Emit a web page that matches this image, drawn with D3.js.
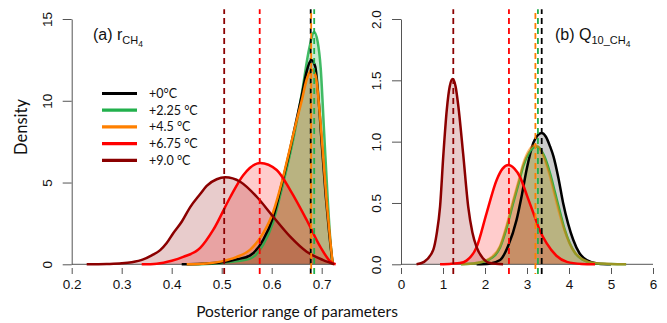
<!DOCTYPE html>
<html>
<head>
<meta charset="utf-8">
<script src="https://cdn.jsdelivr.net/npm/d3@7"></script>
<style>
  body { margin: 0; background: #fff; }
  svg { display: block; }
</style>
</head>
<body>
<div id="chart"></div>
<script>
// scenarios (legend order)
const scenarios = ['+0°C', '+2.25 °C', '+4.5 °C', '+6.75 °C', '+9.0 °C'];
const lineColors = ['#000000', '#22b04c', '#ff8000', '#ff0000', '#8b0000'];
const fillColors = ['rgba(0,0,0,0.2)', 'rgba(34,176,76,0.25)', 'rgba(255,128,0,0.25)', 'rgba(255,0,0,0.2)', 'rgba(139,0,0,0.2)'];

// (a) r_CH4 posterior densities, [value, density]
const rCH4_0 = [[0.42,0],[0.46,0.03],[0.5,0.12],[0.53,0.3],[0.557,0.55],[0.583,1.5],[0.603,2.9],[0.62,4.9],[0.635,6.8],[0.65,8.9],[0.66,10.3],[0.67,11.8],[0.679,12.5],[0.687,12.1],[0.694,10.0],[0.70,7.4],[0.708,4.2],[0.715,1.9],[0.722,0]];
const rCH4_225 = [[0.43,0],[0.48,0.04],[0.52,0.15],[0.557,0.35],[0.583,1.2],[0.603,2.6],[0.62,4.6],[0.64,7.2],[0.66,10.4],[0.675,13.2],[0.685,14.2],[0.692,13.6],[0.698,12.0],[0.705,8.0],[0.712,4.0],[0.718,1.2],[0.722,0]];
const rCH4_45 = [[0.43,0],[0.47,0.05],[0.5,0.18],[0.53,0.45],[0.557,0.9],[0.583,1.9],[0.603,3.2],[0.62,5.0],[0.635,6.9],[0.65,8.8],[0.66,10.0],[0.67,11.3],[0.68,11.9],[0.688,11.5],[0.695,9.6],[0.702,7.0],[0.71,3.8],[0.717,1.5],[0.722,0]];
const rCH4_675 = [[0.34,0],[0.37,0.04],[0.4,0.22],[0.423,0.45],[0.457,1.0],[0.483,2.1],[0.517,4.1],[0.543,5.45],[0.577,6.2],[0.61,5.77],[0.637,4.54],[0.67,2.71],[0.697,1.08],[0.72,0.1],[0.728,0]];
const rCH4_9 = [[0.23,0],[0.27,0.02],[0.3,0.06],[0.32,0.13],[0.343,0.3],[0.36,0.55],[0.377,0.87],[0.39,1.3],[0.403,1.9],[0.42,2.6],[0.437,3.5],[0.457,4.3],[0.47,4.8],[0.49,5.2],[0.507,5.32],[0.537,5.05],[0.57,4.13],[0.603,2.91],[0.637,1.69],[0.67,0.77],[0.703,0.26],[0.72,0.06],[0.725,0]];
const rCH4Series = [rCH4_0, rCH4_225, rCH4_45, rCH4_675, rCH4_9];
const rCH4Means = [0.678, 0.685, 0.679, 0.576, 0.505];
const rTicksX = [0.2, 0.3, 0.4, 0.5, 0.6, 0.7];
const rTicksY = [0, 5, 10, 15];

// (b) Q10_CH4 posterior densities
const q10_0 = [[1.8,0],[2.1,0.005],[2.36,0.035],[2.55,0.15],[2.75,0.36],[2.88,0.57],[2.99,0.77],[3.15,0.99],[3.25,1.05],[3.35,1.07],[3.45,1.04],[3.55,0.96],[3.63,0.88],[3.75,0.7],[3.86,0.5],[3.98,0.33],[4.1,0.2],[4.25,0.09],[4.42,0.035],[4.7,0.005],[5.0,0]];
const q10_225 = [[1.43,0],[1.8,0.01],[2.1,0.04],[2.36,0.14],[2.5,0.28],[2.67,0.5],[2.8,0.66],[2.91,0.8],[3.05,0.91],[3.23,0.96],[3.4,0.89],[3.55,0.74],[3.67,0.58],[3.79,0.42],[3.9,0.28],[4.02,0.17],[4.15,0.09],[4.34,0.035],[4.6,0.008],[5.0,0.002],[5.36,0]];
const q10_45 = [[1.43,0],[1.8,0.01],[2.1,0.045],[2.36,0.15],[2.5,0.3],[2.67,0.52],[2.8,0.68],[2.91,0.82],[3.05,0.93],[3.2,0.97],[3.37,0.9],[3.52,0.75],[3.64,0.59],[3.76,0.43],[3.88,0.29],[4.0,0.18],[4.13,0.1],[4.32,0.04],[4.6,0.01],[5.0,0.003],[5.36,0]];
const q10_675 = [[0.93,0],[1.2,0.005],[1.4,0.01],[1.56,0.03],[1.8,0.14],[2.04,0.42],[2.28,0.69],[2.42,0.78],[2.555,0.81],[2.7,0.78],[2.83,0.715],[3.0,0.56],[3.15,0.42],[3.3,0.28],[3.47,0.17],[3.7,0.07],[3.95,0.02],[4.3,0.003],[4.62,0]];
const q10_9 = [[0.37,0],[0.55,0.02],[0.77,0.12],[0.85,0.25],[0.93,0.47],[1.01,0.9],[1.09,1.26],[1.16,1.45],[1.23,1.51],[1.3,1.45],[1.365,1.29],[1.48,0.9],[1.6,0.47],[1.7,0.26],[1.8,0.14],[1.95,0.05],[2.12,0.01],[2.43,0]];
const q10Series = [q10_0, q10_225, q10_45, q10_675, q10_9];
const q10Means = [3.35, 3.26, 3.2, 2.57, 1.245];
const qTicksX = [0, 1, 2, 3, 4, 5, 6];
const qTicksY = [0, 0.5, 1.0, 1.5, 2.0];

const width = 667, height = 323;
const svg = d3.select('#chart').append('svg')
  .attr('width', width).attr('height', height);

const yTop = 19, yBottom = 264.3;
const tickFont = '"Liberation Sans", Arial, sans-serif';
const labelFont = 'Lato, "Open Sans", sans-serif';

function drawPanel(opt) {
  const x = d3.scaleLinear().domain(opt.xDomain).range(opt.xRange);
  const y = d3.scaleLinear().domain(opt.yDomain).range([yBottom, yTop]);
  const yPad = (opt.yDomain[1] - opt.yDomain[0]) * 0.04;
  const g = svg.append('g');

  // shaded posterior areas
  const area = d3.area()
    .x(d => x(d[0])).y0(y(0)).y1(d => y(d[1]))
    .curve(d3.curveMonotoneX);
  opt.series.forEach((s, i) => {
    g.append('path').datum(s)
      .attr('d', area)
      .attr('fill', fillColors[i]);
  });

  // baseline
  g.append('line')
    .attr('x1', x(opt.xDomain[0])).attr('x2', x(opt.baseEnd))
    .attr('y1', y(0)).attr('y2', y(0))
    .attr('stroke', '#555').attr('stroke-width', 1);

  // density curves
  const line = d3.line()
    .x(d => x(d[0])).y(d => y(d[1]))
    .curve(d3.curveMonotoneX);
  opt.order.forEach(i => {
    g.append('path').datum(opt.series[i])
      .attr('d', line)
      .attr('fill', 'none')
      .attr('stroke', lineColors[i])
      .attr('stroke-opacity', opt.opacity[i])
      .attr('stroke-width', 2.5)
      .attr('stroke-linejoin', 'round');
  });

  // posterior means
  opt.means.forEach((m, i) => {
    g.append('line')
      .attr('x1', x(m)).attr('x2', x(m))
      .attr('y1', y(opt.yDomain[0] - yPad)).attr('y2', y(opt.yDomain[1] + yPad))
      .attr('stroke', lineColors[i])
      .attr('stroke-width', 1.8)
      .attr('stroke-dasharray', '6,4')
      .attr('stroke-dashoffset', i === 2 ? 5 : 0);
  });

  // x axis: ticks only
  const xAxis = g.append('g')
    .attr('transform', `translate(0,268)`)
    .call(d3.axisBottom(x).tickValues(opt.xTicks).tickSize(6).tickPadding(5)
      .tickFormat(opt.xFormat));
  xAxis.select('.domain').remove();
  xAxis.selectAll('line').attr('stroke', '#555');
  xAxis.selectAll('text')
    .attr('font-family', tickFont).attr('font-size', 13.5).attr('fill', '#111');

  // y axis, labels parallel to the axis
  const yAxis = g.append('g')
    .attr('transform', `translate(${opt.xRange[0]},0)`)
    .call(d3.axisLeft(y).tickValues(opt.yTicks).tickSize(9).tickSizeOuter(0)
      .tickFormat(opt.yFormat));
  yAxis.select('.domain').attr('stroke', '#555');
  yAxis.selectAll('line').attr('stroke', '#555');
  yAxis.selectAll('text')
    .attr('font-family', tickFont).attr('font-size', 13.5).attr('fill', '#111')
    .attr('text-anchor', 'middle').attr('dy', 0)
    .attr('x', 0).attr('y', 0)
    .attr('transform', 'translate(-20,0) rotate(-90)');

  // panel title
  const t = g.append('text')
    .attr('x', opt.titleX).attr('y', 40)
    .attr('font-family', tickFont).attr('font-size', 16).attr('fill', '#111');
  t.append('tspan').text(opt.title[0]);
  t.append('tspan').attr('font-size', 11).attr('dy', 4).text(opt.title[1]);
  t.append('tspan').attr('font-size', 8.5).attr('dy', 2.5).text(opt.title[2]);
  return g;
}

drawPanel({
  xDomain: [0.2, 0.7], xRange: [71.7, 321.7], yDomain: [0, 15], baseEnd: 0.722,
  series: rCH4Series, means: rCH4Means, order: [1, 0, 2, 3, 4], opacity: [1, 0.85, 1, 1, 1],
  xTicks: rTicksX, yTicks: rTicksY, xFormat: d3.format('.1f'), yFormat: d3.format('d'),
  title: ['(a) r', 'CH', '4'], titleX: 93
});

drawPanel({
  xDomain: [0, 6], xRange: [401, 653], yDomain: [0, 2], baseEnd: 6,
  series: q10Series, means: q10Means, order: [0, 1, 2, 3, 4], opacity: [1, 1, 0.55, 1, 1],
  xTicks: qTicksX, yTicks: qTicksY, xFormat: d3.format('d'), yFormat: d3.format('.1f'),
  title: ['(b) Q', '10_CH', '4'], titleX: 555
});

// legend
const legend = svg.append('g').attr('transform', 'translate(102,93.5)');
scenarios.forEach((s, i) => {
  const row = legend.append('g').attr('transform', `translate(0,${i * 16.7})`);
  row.append('line')
    .attr('x1', 0).attr('x2', 35).attr('y1', 0).attr('y2', 0)
    .attr('stroke', lineColors[i]).attr('stroke-width', 3.2);
  row.append('text')
    .attr('x', 47).attr('y', 4.5)
    .attr('font-family', labelFont).attr('font-size', 12.5).attr('fill', '#111')
    .text(s);
});

// shared axis titles
svg.append('text')
  .attr('x', 297).attr('y', 317)
  .attr('text-anchor', 'middle')
  .attr('font-family', labelFont).attr('font-size', 15.5).attr('fill', '#111')
  .text('Posterior range of parameters');

svg.append('text')
  .attr('transform', 'translate(27,127) rotate(-90)')
  .attr('text-anchor', 'middle')
  .attr('font-family', labelFont).attr('font-size', 16.5).attr('fill', '#111')
  .text('Density');
</script>
</body>
</html>
